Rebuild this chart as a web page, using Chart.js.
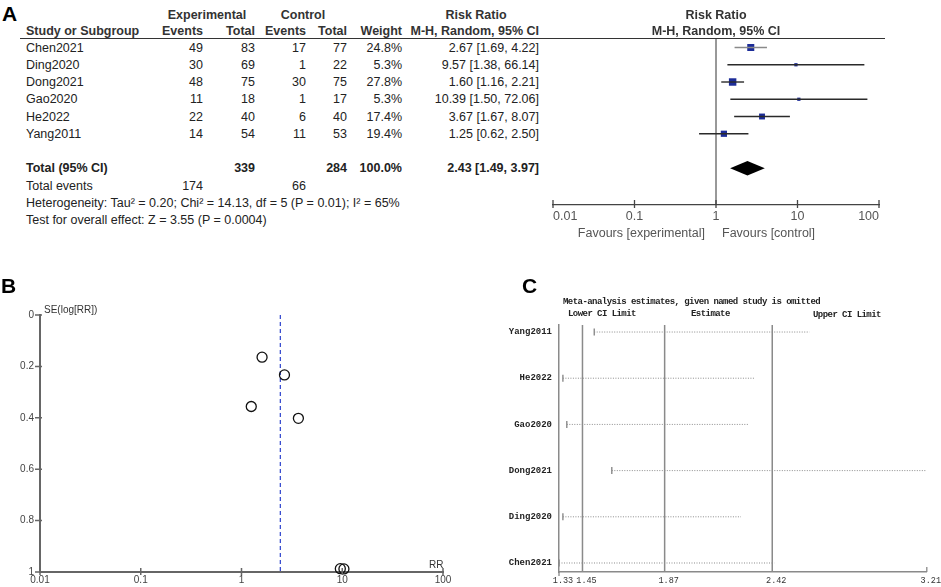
<!DOCTYPE html>
<html>
<head>
<meta charset="utf-8">
<script src="https://cdn.jsdelivr.net/npm/chart.js@4.4.1/dist/chart.umd.min.js"></script>
<style>
  html, body { margin: 0; padding: 0; background: #fff; }
  #page { position: relative; width: 941px; height: 587px; overflow: hidden;
          font-family: "Liberation Sans", Arial, sans-serif; color: #222; }
  .box { position: absolute; }
  .t { position: absolute; white-space: nowrap; line-height: 1; }
  .mono { font-family: "Liberation Mono", "DejaVu Sans Mono", monospace; }
</style>
</head>
<body>
<div id="page">
  <div class="box" style="left:540px;top:0;width:360px;height:245px"><canvas id="forest"></canvas></div>
  <div class="box" style="left:0;top:290px;width:470px;height:297px"><canvas id="funnel"></canvas></div>
  <div class="box" style="left:495px;top:290px;width:446px;height:297px"><canvas id="sens"></canvas></div>
</div>
<script>
// --- A: forest plot data ---
const studies = ['Chen2021', 'Ding2020', 'Dong2021', 'Gao2020', 'He2022', 'Yang2011'];
const expEvents = [49, 30, 48, 11, 22, 14];
const expTotal = [83, 69, 75, 18, 40, 54];
const ctrlEvents = [17, 1, 30, 1, 6, 11];
const ctrlTotal = [77, 22, 75, 17, 40, 53];
const weights = [24.8, 5.3, 27.8, 5.3, 17.4, 19.4];
const rr = [2.67, 9.57, 1.60, 10.39, 3.67, 1.25];
const rrLow = [1.69, 1.38, 1.16, 1.50, 1.67, 0.62];
const rrHigh = [4.22, 66.14, 2.21, 72.06, 8.07, 2.50];
const pooled = [2.43, 1.49, 3.97];          // estimate, lower, upper
const pooledTotals = [339, 284];
const pooledEvents = [174, 66];
const forestTicks = [0.01, 0.1, 1, 10, 100];

// --- B: funnel plot data ---
const seLogRR = [0.233, 0.987, 0.164, 0.988, 0.402, 0.356];
const funnelYTicks = [0, 0.2, 0.4, 0.6, 0.8, 1];
const funnelXTicks = [0.01, 0.1, 1, 10, 100];

// --- C: sensitivity analysis data ---
const sensStudies = ['Yang2011', 'He2022', 'Gao2020', 'Dong2021', 'Ding2020', 'Chen2021'];
const sensLower = [1.51, 1.35, 1.37, 1.60, 1.35, 1.33];
const sensUpper = [2.61, 2.33, 2.30, 3.21, 2.26, 2.43];
const sensRefLines = [1.45, 1.87, 2.42];   // lower CI, estimate, upper CI
const sensTicks = [1.33, 1.45, 1.87, 2.42, 3.21];

Chart.defaults.font.family = '"Liberation Sans", Arial, sans-serif';
Chart.defaults.animation = false;

const page = document.getElementById('page');

function txt(x, y, s, o = {}) {
  const el = document.createElement('div');
  el.className = 't' + (o.mono ? ' mono' : '');
  el.textContent = s;
  el.style.left = x + 'px';
  el.style.top = y + 'px';
  el.style.fontSize = (o.size || 12.5) + 'px';
  if (o.bold) el.style.fontWeight = 'bold';
  if (o.color) el.style.color = o.color;
  if (o.spacing) el.style.letterSpacing = o.spacing + 'px';
  const tx = o.align === 'right' ? '-100%' : o.align === 'center' ? '-50%' : '0';
  el.style.transform = 'translate(' + tx + ', -50%)';
  page.appendChild(el);
}

function hline(x1, x2, y, w, color) {
  const el = document.createElement('div');
  el.style.cssText = `position:absolute;left:${x1}px;top:${y}px;width:${x2 - x1}px;height:${w}px;background:${color}`;
  page.appendChild(el);
}

// ---------- A: forest plot ----------
const totalRow = 7;

const forestDecor = {
  id: 'forestDecor',
  beforeDatasetsDraw(chart) {
    const { ctx, chartArea, scales: { x } } = chart;
    const x1 = x.getPixelForValue(1);
    ctx.save();
    ctx.strokeStyle = '#333';
    ctx.lineWidth = 1;
    ctx.beginPath();
    ctx.moveTo(x1, chartArea.top);
    ctx.lineTo(x1, chartArea.bottom);
    ctx.stroke();
    ctx.restore();
  },
  afterDatasetsDraw(chart) {
    const { ctx, chartArea, scales: { x, y } } = chart;
    ctx.save();
    // pooled diamond
    const yc = y.getPixelForValue(totalRow);
    const yt = y.getPixelForValue(totalRow - 0.42);
    const yb = y.getPixelForValue(totalRow + 0.42);
    ctx.fillStyle = '#000';
    ctx.beginPath();
    ctx.moveTo(x.getPixelForValue(pooled[1]), yc);
    ctx.lineTo(x.getPixelForValue(pooled[0]), yt);
    ctx.lineTo(x.getPixelForValue(pooled[2]), yc);
    ctx.lineTo(x.getPixelForValue(pooled[0]), yb);
    ctx.closePath();
    ctx.fill();
    // tick marks crossing the axis
    ctx.strokeStyle = '#444';
    ctx.lineWidth = 1.3;
    ctx.beginPath();
    x.ticks.forEach(t => {
      const px = x.getPixelForValue(t.value);
      ctx.moveTo(px, chartArea.bottom - 5);
      ctx.lineTo(px, chartArea.bottom + 3);
    });
    ctx.stroke();
    ctx.restore();
  }
};

const forestSets = studies.map((s, i) => ({
  type: 'scatter',
  showLine: true,
  data: [{ x: rrLow[i], y: i }, { x: rrHigh[i], y: i }],
  borderColor: i === 0 ? '#8a8a8a' : '#2a2a2a',
  borderWidth: 1.4,
  pointRadius: 0
}));
forestSets.push({
  type: 'scatter',
  data: rr.map((v, i) => ({ x: v, y: i })),
  pointStyle: 'rect',
  pointRadius: weights.map(w => Math.sqrt(w)),
  backgroundColor: '#1c2c98',
  borderWidth: 0
});

const forest = new Chart(document.getElementById('forest'), {
  type: 'scatter',
  data: { datasets: forestSets },
  options: {
    responsive: true,
    maintainAspectRatio: false,
    layout: { padding: { left: 13, right: 21, top: 38, bottom: 0 } },
    plugins: { legend: { display: false }, tooltip: { enabled: false } },
    scales: {
      x: {
        type: 'logarithmic',
        min: 0.01,
        max: 100,
        afterBuildTicks: s => { s.ticks = forestTicks.map(v => ({ value: v })); },
        afterFit: s => { s.height = 40; },
        grid: { display: false, drawTicks: false, tickLength: 0 },
        border: { display: true, color: '#444', width: 1.3 },
        ticks: { color: '#555', font: { size: 12.5 }, padding: 4, autoSkip: false, maxRotation: 0,
                 align: 'inner', callback: v => String(v) }
      },
      y: { display: false, reverse: true, min: -0.551, max: 9.13 }
    }
  },
  plugins: [forestDecor]
});

// table text, rows aligned to the forest plot's own y scale
const colEvE = 203, colTotE = 255, colEvC = 306, colTotC = 347, colW = 402, colCI = 539, colStudy = 26;
const rowY = r => forest.scales.y.getPixelForValue(r);
const fmt = v => v.toFixed(2);

txt(2, 13, 'A', { size: 21, bold: true, color: '#000' });
txt(207, 15, 'Experimental', { align: 'center', bold: true, color: '#333' });
txt(303, 15, 'Control', { align: 'center', bold: true, color: '#333' });
txt(476, 15, 'Risk Ratio', { align: 'center', bold: true, color: '#333' });
txt(colStudy, 31, 'Study or Subgroup', { bold: true, color: '#333' });
txt(colEvE, 31, 'Events', { align: 'right', bold: true, color: '#333' });
txt(colTotE, 31, 'Total', { align: 'right', bold: true, color: '#333' });
txt(colEvC, 31, 'Events', { align: 'right', bold: true, color: '#333' });
txt(colTotC, 31, 'Total', { align: 'right', bold: true, color: '#333' });
txt(colW, 31, 'Weight', { align: 'right', bold: true, color: '#333' });
txt(colCI, 31, 'M-H, Random, 95% CI', { align: 'right', bold: true, color: '#333' });
hline(20, 885, 37.5, 1.4, '#333');

const x1px = 540 + forest.scales.x.getPixelForValue(1);
txt(x1px, 15, 'Risk Ratio', { align: 'center', bold: true, color: '#333' });
txt(x1px, 31, 'M-H, Random, 95% CI', { align: 'center', bold: true, color: '#333' });

studies.forEach((s, i) => {
  const y = rowY(i);
  txt(colStudy, y, s);
  txt(colEvE, y, String(expEvents[i]), { align: 'right' });
  txt(colTotE, y, String(expTotal[i]), { align: 'right' });
  txt(colEvC, y, String(ctrlEvents[i]), { align: 'right' });
  txt(colTotC, y, String(ctrlTotal[i]), { align: 'right' });
  txt(colW, y, weights[i].toFixed(1) + '%', { align: 'right' });
  txt(colCI, y, `${fmt(rr[i])} [${fmt(rrLow[i])}, ${fmt(rrHigh[i])}]`, { align: 'right' });
});
{
  const y = rowY(totalRow);
  txt(colStudy, y, 'Total (95% CI)', { bold: true });
  txt(colTotE, y, String(pooledTotals[0]), { align: 'right', bold: true });
  txt(colTotC, y, String(pooledTotals[1]), { align: 'right', bold: true });
  txt(colW, y, '100.0%', { align: 'right', bold: true });
  txt(colCI, y, `${fmt(pooled[0])} [${fmt(pooled[1])}, ${fmt(pooled[2])}]`, { align: 'right', bold: true });
  const y2 = rowY(totalRow + 1);
  txt(colStudy, y2, 'Total events');
  txt(colEvE, y2, String(pooledEvents[0]), { align: 'right' });
  txt(colEvC, y2, String(pooledEvents[1]), { align: 'right' });
  txt(colStudy, rowY(totalRow + 2), 'Heterogeneity: Tau² = 0.20; Chi² = 14.13, df = 5 (P = 0.01); I² = 65%');
  txt(colStudy, rowY(totalRow + 3), 'Test for overall effect: Z = 3.55 (P = 0.0004)');
}
txt(x1px - 11, 233, 'Favours [experimental]', { align: 'right', color: '#555' });
txt(x1px + 6, 233, 'Favours [control]', { color: '#555' });

// ---------- B: funnel plot ----------
const funnelDecor = {
  id: 'funnelDecor',
  afterDraw(chart) {
    const { ctx, chartArea, scales: { x, y } } = chart;
    ctx.save();
    ctx.strokeStyle = '#666';
    ctx.lineWidth = 1.5;
    ctx.beginPath();
    y.ticks.forEach(t => {
      const py = y.getPixelForValue(t.value);
      ctx.moveTo(chartArea.left - 5, py);
      ctx.lineTo(chartArea.left + 2, py);
    });
    x.ticks.forEach(t => {
      const px = x.getPixelForValue(t.value);
      ctx.moveTo(px, chartArea.bottom - 4);
      ctx.lineTo(px, chartArea.bottom + 3);
    });
    ctx.stroke();
    ctx.restore();
  }
};

new Chart(document.getElementById('funnel'), {
  type: 'scatter',
  data: {
    datasets: [
      {
        data: rr.map((v, i) => ({ x: v, y: seLogRR[i] })),
        pointStyle: 'circle',
        pointRadius: 5,
        borderColor: '#111',
        borderWidth: 1.3,
        backgroundColor: 'rgba(0,0,0,0)',
        clip: false
      },
      {
        data: [{ x: pooled[0], y: 0 }, { x: pooled[0], y: 1 }],
        showLine: true,
        borderColor: '#3b4fd0',
        borderWidth: 1.3,
        borderDash: [4, 3],
        pointRadius: 0
      }
    ]
  },
  options: {
    responsive: true,
    maintainAspectRatio: false,
    layout: { padding: { left: 0, right: 27, top: 25, bottom: 0 } },
    plugins: { legend: { display: false }, tooltip: { enabled: false } },
    scales: {
      x: {
        type: 'logarithmic',
        min: 0.01,
        max: 100,
        afterBuildTicks: s => { s.ticks = funnelXTicks.map(v => ({ value: v })); },
        afterFit: s => { s.height = 15; },
        grid: { display: false, drawTicks: false, tickLength: 0 },
        border: { display: true, color: '#666', width: 2 },
        ticks: { color: '#444', font: { size: 10 }, padding: 2, autoSkip: false, maxRotation: 0,
                 callback: v => String(v) }
      },
      y: {
        type: 'linear',
        min: 0,
        max: 1,
        reverse: true,
        afterBuildTicks: s => { s.ticks = funnelYTicks.map(v => ({ value: v })); },
        afterFit: s => { s.width = 40; },
        grid: { display: false, drawTicks: false, tickLength: 0 },
        border: { display: true, color: '#666', width: 2 },
        ticks: { color: '#444', font: { size: 10 }, padding: 6, callback: v => String(v) }
      }
    }
  },
  plugins: [funnelDecor]
});

txt(1, 285, 'B', { size: 21, bold: true, color: '#000' });
txt(44, 310, 'SE(log[RR])', { size: 10, color: '#333' });
txt(429, 565, 'RR', { size: 10, color: '#333' });

// ---------- C: sensitivity analysis ----------
const sensDecor = {
  id: 'sensDecor',
  beforeDatasetsDraw(chart) {
    const { ctx, chartArea, scales: { x } } = chart;
    ctx.save();
    ctx.strokeStyle = '#8a8a8a';
    ctx.lineWidth = 1.5;
    ctx.beginPath();
    sensRefLines.forEach(v => {
      const px = x.getPixelForValue(v);
      ctx.moveTo(px, chartArea.top);
      ctx.lineTo(px, chartArea.bottom);
    });
    ctx.stroke();
    ctx.restore();
  },
  afterDraw(chart) {
    const { ctx, chartArea, scales: { x } } = chart;
    ctx.save();
    ctx.strokeStyle = '#8a8a8a';
    ctx.lineWidth = 1.3;
    ctx.beginPath();
    ctx.moveTo(x.getPixelForValue(sensTicks[0]), chartArea.bottom);
    ctx.lineTo(x.getPixelForValue(sensTicks[0]), chartArea.bottom + 4);
    const xr = x.getPixelForValue(sensTicks[sensTicks.length - 1]);
    ctx.moveTo(xr, chartArea.bottom);
    ctx.lineTo(xr, chartArea.bottom - 5);
    ctx.stroke();
    ctx.restore();
  }
};

const sensSets = sensStudies.map((s, i) => ({
  data: [{ x: sensLower[i], y: i }, { x: sensUpper[i], y: i }],
  showLine: true,
  borderColor: '#8c8c8c',
  borderWidth: 1,
  borderDash: [1, 1.5],
  pointRadius: 0
}));
sensSets.push({
  data: sensLower.map((v, i) => ({ x: v, y: i })),
  pointStyle: 'line',
  rotation: 90,
  pointRadius: 3.5,
  borderColor: '#777',
  borderWidth: 1.2
});

const monoFont = '"Liberation Mono", "DejaVu Sans Mono", monospace';
new Chart(document.getElementById('sens'), {
  type: 'scatter',
  data: { datasets: sensSets },
  options: {
    responsive: true,
    maintainAspectRatio: false,
    layout: { padding: { left: 0, right: 14, top: 35, bottom: 0 } },
    plugins: { legend: { display: false }, tooltip: { enabled: false } },
    scales: {
      x: {
        type: 'linear',
        min: sensTicks[0],
        max: sensTicks[sensTicks.length - 1],
        afterBuildTicks: s => { s.ticks = sensTicks.map(v => ({ value: v })); },
        afterFit: s => { s.height = 15; },
        grid: { display: false, drawTicks: false, tickLength: 0 },
        border: { display: true, color: '#8a8a8a', width: 1.5 },
        ticks: { color: '#333', font: { family: monoFont, size: 8.5 }, padding: 4, autoSkip: false,
                 maxRotation: 0, labelOffset: 4, callback: v => v.toFixed(2) }
      },
      y: {
        type: 'linear',
        min: -0.152,
        max: 5.195,
        reverse: true,
        afterBuildTicks: s => { s.ticks = sensStudies.map((n, i) => ({ value: i })); },
        afterFit: s => { s.width = 64; },
        grid: { display: false, drawTicks: false, tickLength: 0 },
        border: { display: true, color: '#8a8a8a', width: 1.5 },
        ticks: { color: '#222', font: { family: monoFont, size: 9, weight: 'bold' }, padding: 7,
                 callback: v => sensStudies[v] }
      }
    }
  },
  plugins: [sensDecor]
});

txt(522, 285, 'C', { size: 21, bold: true, color: '#000' });
txt(563, 302, 'Meta-analysis estimates, given named study is omitted', { mono: true, size: 9, bold: true, spacing: -0.55 });
txt(568, 314, 'Lower CI Limit', { mono: true, size: 9, bold: true, spacing: -0.55 });
txt(691, 314, 'Estimate', { mono: true, size: 9, bold: true, spacing: -0.55 });
txt(813, 315, 'Upper CI Limit', { mono: true, size: 9, bold: true, spacing: -0.55 });
</script>
</body>
</html>
